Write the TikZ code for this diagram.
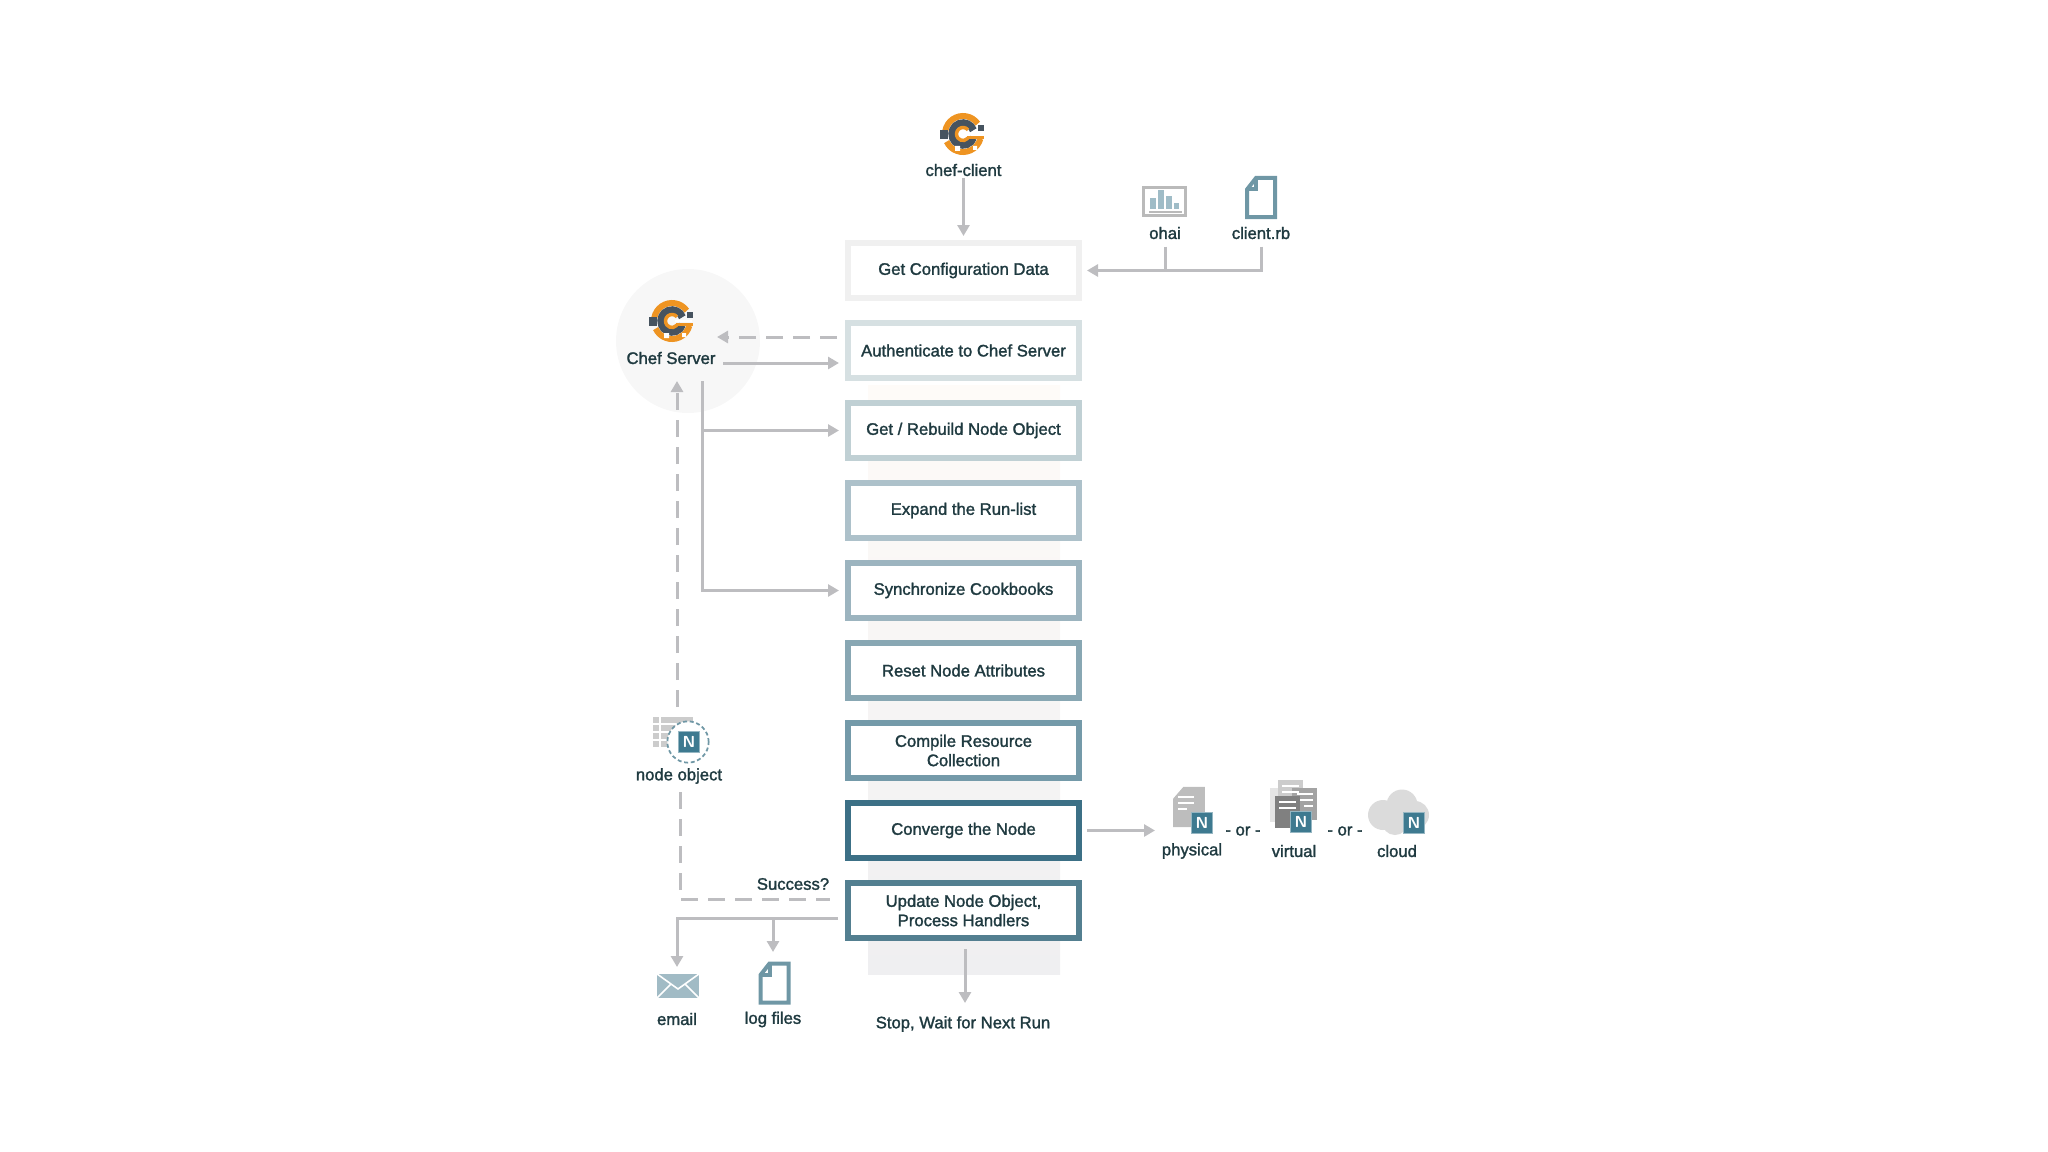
\documentclass[tikz,border=0pt]{standalone}
\usepackage{fontspec}
\usepackage{xcolor}
\usepackage{tikz}
\usetikzlibrary{arrows.meta, positioning}
\newfontfamily\chartfont{Liberation Sans}[FakeBold=1.6]
\definecolor{wire}{HTML}{BDBDC0}
\definecolor{ink}{HTML}{1F3A40}
\definecolor{teal}{HTML}{3E7A90}
\definecolor{tealdoc}{HTML}{6F97A5}
\definecolor{chefgold}{HTML}{EE9422}
\definecolor{chefgear}{HTML}{46535F}
\definecolor{columntop}{HTML}{FEFBF8}
\definecolor{columnmid}{HTML}{FAF9F9}
\definecolor{columnend}{HTML}{EFEFF1}

\tikzset{
    chef logo/.pic={
        \begin{scope}[y=0.75pt]
        \draw[chefgold, line width=4.5pt] (35:18) arc[start angle=35, end angle=170, radius=18];
        \draw[chefgold, line width=4.5pt] (205:18) arc[start angle=205, end angle=345, radius=18];
        \draw[chefgear, line width=5.6pt] (20:11) arc[start angle=20, end angle=340, radius=11];
        \fill[chefgear] (-23,-5) rectangle (-15,4);
        \fill[chefgear] (15,3) rectangle (21,9);
        \fill[white] (-8,-17) rectangle (-3,-12) (10,-16) rectangle (14,-12);
        \draw[white, line width=1.8pt] (3,0) -- (20,0);
        \draw[chefgold, line width=2.6pt] (40:6.5) arc[start angle=40, end angle=320, radius=6.5];
        \draw[chefgold, line width=2.2pt] (4,-3.5) -- (21,-3.5);
        \end{scope}
    }
}
\tikzset{
    doc icon/.pic={
        \path[pic actions] (-14,-8) -- (-5,-19.5) -- (14,-19.5) -- (14,19.5) -- (-14,19.5) -- cycle;
        \path[pic actions, fill=none] (-14,-8) -- (-5,-8) -- (-5,-19.5);
    }
}

\begin{document}
\begin{tikzpicture}[
    x=0.75pt, y=-0.75pt,
    node distance=14.25pt,
    stepbox/.style={rectangle, fill=white, line width=4.5pt, minimum width=173.25pt, minimum height=41.25pt, inner sep=0pt, align=center, font=\chartfont\fontsize{12.5}{14.5}\selectfont, text=ink},
    lbl/.style={font=\chartfont\fontsize{12.5}{14}\selectfont, text=ink, inner sep=1pt, align=center},
    nbadge/.style={rectangle, fill=teal, draw=teal!55, line width=0.8pt, minimum size=15.5pt, inner sep=0pt, text=white, font=\sffamily\bfseries\fontsize{12}{12}\selectfont},
    arrow/.style={-{Triangle[length=8.25pt, width=9pt]}, line width=2.25pt, draw=wire},
    dasharrow/.style={arrow, dash pattern=on 12.75pt off 7.5pt},
    plainline/.style={line width=2.25pt, draw=wire}
]
\useasboundingbox (0,0) rectangle (2048,1152);

% Backdrop of the steps and the server disc
\node[rectangle, minimum width=144pt, minimum height=441.75pt, inner sep=0pt, outer sep=0pt, top color=columntop, middle color=columnmid, bottom color=columnend] (column) at (964,679.5) {};
\node[circle, fill=black!3, minimum size=108pt, inner sep=0pt] (server) at (688,341) {};

% Steps
\node[stepbox, draw=black!6] (config) at (963.5,270.5) {Get Configuration Data};
\node[stepbox, draw={rgb,255:red,214;green,224;blue,226}, below=of config] (auth) {Authenticate to Chef Server};
\node[stepbox, draw={rgb,255:red,192;green,208;blue,212}, below=of auth] (rebuild) {Get / Rebuild Node Object};
\node[stepbox, draw={rgb,255:red,173;green,193;blue,202}, below=of rebuild] (expand) {Expand the Run-list};
\node[stepbox, draw={rgb,255:red,156;green,180;blue,191}, below=of expand] (sync) {Synchronize Cookbooks};
\node[stepbox, draw={rgb,255:red,136;green,167;blue,179}, below=of sync] (reset) {Reset Node Attributes};
\node[stepbox, draw={rgb,255:red,116;green,154;blue,169}, below=of reset] (compile) {Compile Resource\\Collection};
\node[stepbox, draw={rgb,255:red,60;green,112;blue,134}, below=of compile] (converge) {Converge the Node};
\node[stepbox, draw={rgb,255:red,83;green,127;blue,144}, below=of converge] (update) {Update Node Object,\\Process Handlers};

% Labels
\node[lbl] (clientlbl) at (963.5,170) {chef-client};
\node[lbl] (serverlbl) at (671,358) {Chef Server};
\node[lbl] (ohailbl) at (1165,233) {ohai};
\node[lbl] (rblbl) at (1261,233) {client.rb};
\node[lbl] (objectlbl) at (679,776) {node object};
\node[lbl] (successlbl) at (793,884) {Success?};
\node[lbl] (emaillbl) at (677,1019) {email};
\node[lbl] (loglbl) at (773,1019.5) {log files};
\node[lbl] (stoplbl) at (963,1024) {Stop, Wait for Next Run};
\node[lbl] (physlbl) at (1192,851) {physical};
\node[lbl] (orone) at (1243,831) {- or -};
\node[lbl] (virtlbl) at (1294,851) {virtual};
\node[lbl] (ortwo) at (1345,831) {- or -};
\node[lbl] (cloudlbl) at (1397,851) {cloud};

% Logos
\pic at (963,134) {chef logo};
\pic at (672,321) {chef logo};

% ohai and client.rb
\node[rectangle, draw=black!27, fill=white, line width=2.2pt, minimum width=31pt, minimum height=21pt, inner sep=0pt] (ohaiicon) at (1164.5,201.5) {};
\foreach \barx/\bartop in {1153/198, 1161/190, 1169/196, 1176.5/203}
    \fill[teal!50] (\barx-2.7,\bartop) rectangle (\barx+2.7,209);
\draw[black!27, line width=0.8pt] (1149,212) -- (1182,212);
\pic[draw=tealdoc, fill=white, line width=3pt] at (1261,197.5) {doc icon};

% node object
\foreach \rowy in {717,725,733,741} {
    \fill[black!20] (653,\rowy) rectangle (659,\rowy+6);
    \fill[black!20] (661,\rowy) rectangle (693,\rowy+6);
}
\node[circle, draw=tealdoc, fill=white, densely dashed, line width=1.3pt, minimum size=31pt, inner sep=0pt] (objectring) at (688,742) {};
\node[nbadge] (objectn) at (689,742) {N};

% email and log files
\node[rectangle, fill=tealdoc!65, minimum width=31.5pt, minimum height=18pt, inner sep=0pt] (mail) at (678,986) {};
\draw[white, line width=1.2pt] (mail.north west) -- (678,989) -- (mail.north east);
\draw[white, line width=1.2pt] (mail.south west) -- (671,984);
\draw[white, line width=1.2pt] (mail.south east) -- (685,984);
\pic[draw=tealdoc, fill=white, line width=3pt] at (774.5,983) {doc icon};

% physical
\pic[fill=black!26, xscale=1.14, yscale=1.03] at (1189,807) {doc icon};
\foreach \liney/\lineend in {797/1194, 803/1194, 809/1187}
    \draw[white, line width=1.4pt] (1178,\liney) -- (\lineend,\liney);
\node[nbadge] (physn) at (1202,823) {N};

% virtual
\fill[black!10] (1270,788) rectangle (1296,822);
\fill[black!20] (1278,780) rectangle (1303,803);
\fill[black!36] (1292,788) rectangle (1317,820);
\draw[white, line width=1.3pt] (1282,786) -- (1299,786) (1282,792) -- (1299,792);
\draw[white, line width=1.3pt] (1297,794) -- (1313,794) (1297,800) -- (1313,800) (1304,806) -- (1313,806);
\fill[black!50] (1275,796) rectangle (1300,828);
\draw[white, line width=1.3pt] (1279,802) -- (1296,802) (1279,808) -- (1296,808);
\node[nbadge] (virtn) at (1301,822) {N};

% cloud
\fill[black!14] (1383,815) circle (15) (1402,805) circle (15.5) (1415,815) circle (14) (1395,822) circle (13) (1410,822) circle (12);
\node[nbadge] (cloudn) at (1414,823) {N};

% Named ends of free connectors
\coordinate (serverin) at (717,337);
\coordinate (serverout) at (723,363);
\coordinate (serverdown) at (702,381);
\coordinate (serverup) at (677,381);
\coordinate (objecttop) at (677,707);
\coordinate (objectdrop) at (680,792);
\coordinate (objectcorner) at (680,899);
\coordinate (successend) at (830,899);
\coordinate (updateleft) at (838,918);
\coordinate (mailtip) at (677,967);
\coordinate (logtip) at (773,952);
\coordinate (convergetip) at (1155,831);
\coordinate (stoptop) at (965,949);
\coordinate (stoptip) at (965,1003);

% Arrows - main column
\draw[arrow, shorten >=3pt] (clientlbl.south) -- (config.north);
\draw[arrow] (stoptop) -- (stoptip);
\draw[arrow, shorten <=4.5pt] (rblbl.south) |- ([xshift=3.75pt]config.east);
\draw[plainline, shorten <=4.5pt] (ohailbl.south) -- (ohailbl.south |- config.east);

% Arrows - server
\draw[dasharrow, shorten <=6pt] (serverin -| auth.west) -- (serverin);
\draw[arrow, shorten >=4.5pt] (serverout) -- (serverout -| auth.west);
\draw[arrow, shorten >=4.5pt] (serverdown |- rebuild.west) -- (rebuild.west);
\draw[arrow, shorten >=4.5pt] (serverdown) |- (sync.west);
\draw[dasharrow] (objecttop) -- (serverup);

% Arrows - update
\draw[dash pattern=on 12.75pt off 7.5pt, plainline] (objectdrop) -- (objectcorner) -- (successend);
\draw[arrow] (updateleft) -| (mailtip);
\draw[arrow] (updateleft -| logtip) -- (logtip);

% Arrow - converge
\draw[arrow, shorten <=3.75pt] (converge.east) -- (converge.east -| convergetip);

\end{tikzpicture}
\end{document}
